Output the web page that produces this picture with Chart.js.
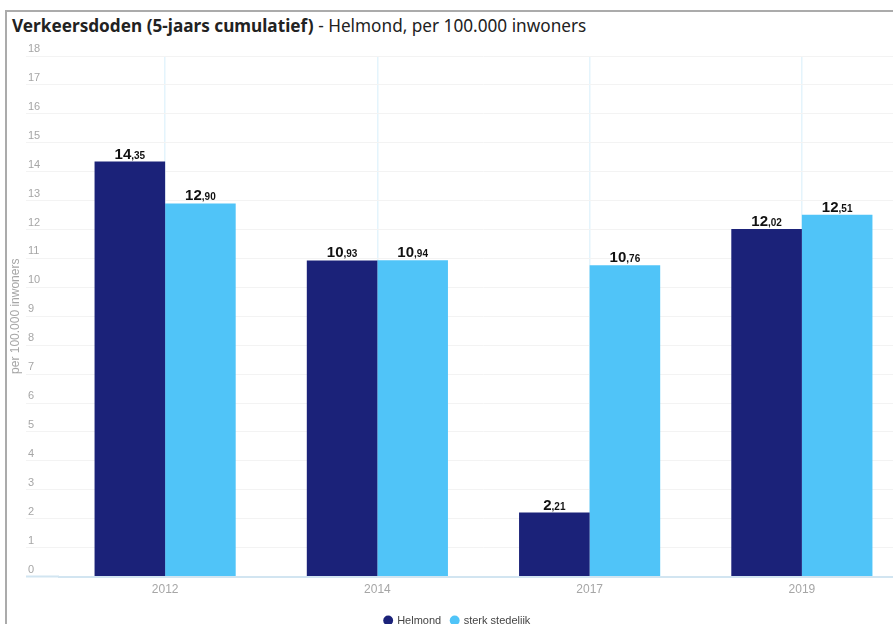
<!DOCTYPE html>
<html>
<head>
<meta charset="utf-8">
<script src="https://cdn.jsdelivr.net/npm/chart.js@4"></script>
<style>
  html, body { margin: 0; padding: 0; background: #fff; }
  #wrap { position: absolute; left: 0; top: 0; width: 893px; height: 624px; overflow: hidden; }
  #frame { position: absolute; left: 5px; top: 10px; width: 900px; height: 700px;
           border-top: 2px solid #ababab; border-left: 2px solid #ababab; }
  #title { position: absolute; left: 12px; top: 14px; font-family: "Noto Sans", "Open Sans", sans-serif;
           font-size: 17.2px; color: #222; white-space: nowrap; }
  #title b { font-weight: 700; }
  canvas { position: absolute; left: 0; top: 0; }
</style>
</head>
<body>
<div id="wrap">
  <div id="frame"></div>
  <div id="title"><b>Verkeersdoden (5-jaars cumulatief)</b> - Helmond, per 100.000 inwoners</div>
  <canvas id="c" width="916" height="636" style="width:916px;height:636px"></canvas>
</div>
<script>
const categories = ['2012', '2014', '2017', '2019'];
const helmond = [14.35, 10.93, 2.21, 12.02];
const sterkStedelijk = [12.90, 10.94, 10.76, 12.51];
const seriesNames = ['Helmond', 'sterk stedelijk'];
const yTitle = 'per 100.000 inwoners';

const DARK = '#1b2279';
const LIGHT = '#50c4f8';
const GRID = '#f3f3f3';
const AXIS = '#d2e5f1';
const FONT = '"Liberation Sans", Arial, sans-serif';

const valueLabels = {
  id: 'valueLabels',
  afterDatasetsDraw(chart) {
    const ctx = chart.ctx;
    ctx.save();
    ctx.fillStyle = '#111';
    ctx.textBaseline = 'alphabetic';
    chart.data.datasets.forEach((ds, di) => {
      const meta = chart.getDatasetMeta(di);
      meta.data.forEach((bar, i) => {
        const v = ds.data[i];
        const parts = v.toFixed(2).split('.');
        const intPart = parts[0];
        const decPart = ',' + parts[1];
        ctx.font = 'bold 15px ' + FONT;
        const w1 = ctx.measureText(intPart).width;
        ctx.font = 'bold 10px ' + FONT;
        const w2 = ctx.measureText(decPart).width;
        const x0 = bar.x - (w1 + w2) / 2;
        const y = bar.y - 3;
        ctx.textAlign = 'left';
        ctx.font = 'bold 15px ' + FONT;
        ctx.fillText(intPart, x0, y);
        ctx.font = 'bold 10px ' + FONT;
        ctx.fillText(decPart, x0 + w1, y);
      });
    });
    ctx.restore();
  }
};

new Chart(document.getElementById('c'), {
  type: 'bar',
  data: {
    labels: categories,
    datasets: [
      { label: seriesNames[0], data: helmond, backgroundColor: DARK, borderWidth: 0,
        xAxisID: 'x', yAxisID: 'y', categoryPercentage: 0.665, barPercentage: 1.0 },
      { label: seriesNames[1], data: sterkStedelijk, backgroundColor: LIGHT, borderWidth: 0,
        xAxisID: 'x', yAxisID: 'y', categoryPercentage: 0.665, barPercentage: 1.0 }
    ]
  },
  options: {
    responsive: false,
    devicePixelRatio: 1,
    animation: false,
    layout: { padding: { left: 7, right: 8, top: 56, bottom: 0 } },
    plugins: {
      legend: {
        position: 'bottom',
        labels: {
          usePointStyle: true,
          pointStyle: 'circle',
          boxWidth: 7,
          boxHeight: 7,
          padding: 10,
          color: '#444',
          font: { family: FONT, size: 11 }
        }
      },
      title: { display: false },
      tooltip: { enabled: false }
    },
    scales: {
      x: {
        offset: true,
        grid: { offset: false, color: '#e4f4fc', lineWidth: 1.5, drawTicks: false },
        border: { display: true, color: AXIS, width: 2 },
        ticks: { color: '#a6a6a6', padding: 6, font: { family: FONT, size: 12 } },
        afterFit: (s) => { s.height = 28.5; }
      },
      y: {
        position: 'left',
        weight: 0,
        min: 0,
        max: 18,
        border: { display: false },
        grid: {
          color: GRID,
          lineWidth: 1,
          drawTicks: true,
          tickLength: 33,
          tickColor: (c) => (c.tick && c.tick.value === 0) ? AXIS : GRID,
          tickWidth: (c) => (c.tick && c.tick.value === 0) ? 2 : 1
        },
        ticks: {
          stepSize: 1,
          crossAlign: 'far',
          padding: 0,
          labelOffset: -7,
          color: '#a6a6a6',
          font: { family: FONT, size: 11 }
        },
        afterFit: (s) => { s.width = 31; }
      },
      yt: {
        type: 'linear',
        position: 'left',
        weight: 10,
        min: 0,
        max: 1,
        grid: { display: false, drawTicks: false, tickLength: 0 },
        border: { display: false },
        ticks: { display: false },
        title: {
          display: true,
          text: yTitle,
          color: '#a6a6a6',
          padding: { top: 1, bottom: 5.6 },
          font: { family: FONT, size: 12 }
        }
      }
    }
  },
  plugins: [valueLabels]
});
</script>
</body>
</html>
